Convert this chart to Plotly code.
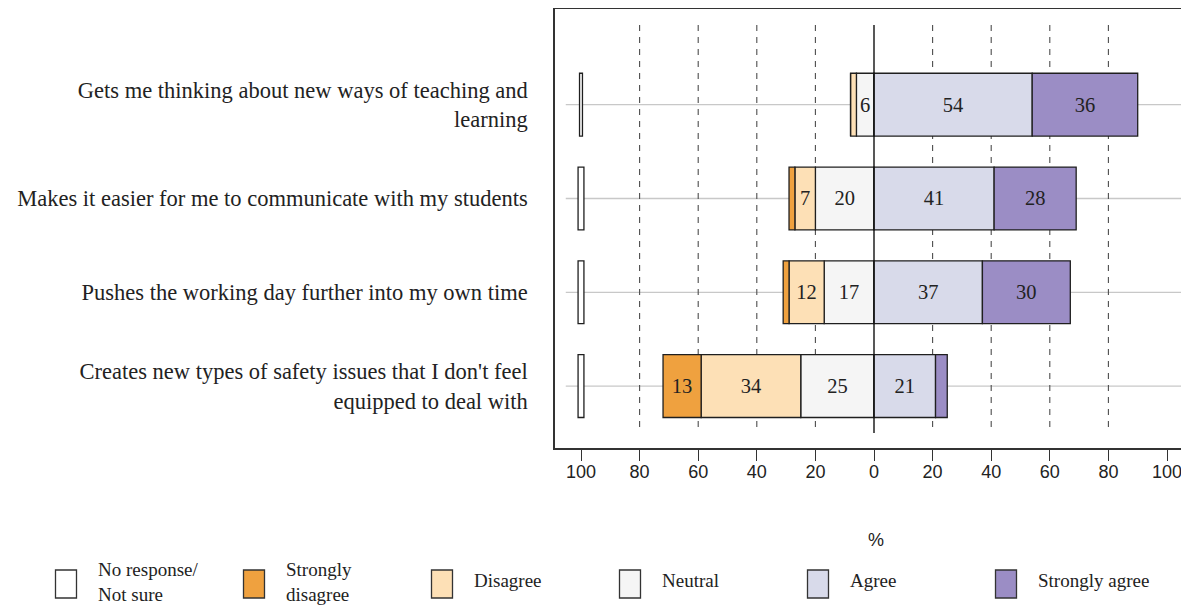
import numpy as np
import plotly.graph_objects as go

# ---------------- data ----------------
statements = [
    "Gets me thinking about new ways of teaching and<br>learning",
    "Makes it easier for me to communicate with my students",
    "Pushes the working day further into my own time",
    "Creates new types of safety issues that I don't feel<br>equipped to deal with",
]
no_response = [1, 2, 2, 2]
strongly_disagree = [0, 2, 2, 13]
disagree = [2, 7, 12, 34]
neutral = [6, 20, 17, 25]
agree = [54, 41, 37, 21]
strongly_agree = [36, 28, 30, 4]

tick_vals = [-100, -80, -60, -40, -20, 0, 20, 40, 60, 80, 100]
tick_text = ["100", "80", "60", "40", "20", "0", "20", "40", "60", "80", "100"]

legend_labels = ["No response/<br>Not sure", "Strongly<br>disagree", "Disagree",
                 "Neutral", "Agree", "Strongly agree"]

colors = {
    "nr": "#ffffff",
    "sd": "#efa13f",
    "d": "#fde0b6",
    "n": "#f5f5f5",
    "a": "#d8daea",
    "sa": "#9b8dc5",
}

# ---------------- geometry ----------------
W, H = 1189, 606
OFF = 8                      # page body margin offset
PX_PER_UNIT = 2.93
ML = 555 - OFF
MT = 9 - OFF
MB = H - (448 - OFF)
MR = 0
ypos = np.arange(len(statements))
BW = 0.67
EDGE = "#1f1f1f"
TXT = "#222222"
SERIF = "Liberation Serif, Times New Roman, serif"
SANS = "Liberation Sans, Arial, sans-serif"

nr = np.array(no_response, float)
sd = np.array(strongly_disagree, float)
d = np.array(disagree, float)
n = np.array(neutral, float)
a = np.array(agree, float)
sa = np.array(strongly_agree, float)

def lab(vals):
    return [str(int(v)) if v >= 5 else "" for v in vals]

fig = go.Figure()

def add_seg(values, base, color, name):
    fig.add_trace(go.Bar(
        y=ypos, x=values, base=base, orientation="h", width=BW,
        marker=dict(color=color, line=dict(color=EDGE, width=1.3)),
        text=lab(values), textposition="inside", insidetextanchor="middle",
        textangle=0, constraintext="none",
        textfont=dict(family=SERIF, size=20.5, color=TXT),
        name=name, showlegend=False, hoverinfo="x+name",
    ))

# negative side: neutral closest to zero, then disagree, then strongly disagree
add_seg(n, -n, colors["n"], "Neutral")
add_seg(d, -n - d, colors["d"], "Disagree")
add_seg(sd, -n - d - sd, colors["sd"], "Strongly disagree")
add_seg(a, np.zeros_like(a), colors["a"], "Agree")
add_seg(sa, a, colors["sa"], "Strongly agree")
# no response drawn around -100
fig.add_trace(go.Bar(
    y=ypos, x=nr, base=-100 - nr / 2, orientation="h", width=BW,
    marker=dict(color=colors["nr"], line=dict(color=EDGE, width=1.3)),
    name="No response/Not sure", showlegend=False,
))

XMIN = -100 - (581 - 555) / PX_PER_UNIT
XMAX = XMIN + (W - ML - MR) / PX_PER_UNIT
YTOP, YBOT = -1.02, 3.66

shapes = []
# horizontal light-grey guide lines
for yv in ypos:
    shapes.append(dict(type="line", xref="x", yref="y", x0=-105.2, x1=105.5,
                       y0=yv, y1=yv, line=dict(color="#c8c8c8", width=1.3),
                       layer="below"))
# dashed vertical grid lines
for xv in [-80, -60, -40, -20, 20, 40, 60, 80]:
    shapes.append(dict(type="line", xref="x", yref="y", x0=xv, x1=xv,
                       y0=-0.85, y1=3.50,
                       line=dict(color="#4d4d4d", width=1.1, dash="6px,6px"),
                       layer="below"))
# zero line
shapes.append(dict(type="line", xref="x", yref="y", x0=0, x1=0,
                   y0=-0.85, y1=3.50, line=dict(color="#111111", width=1.4),
                   layer="above"))

# ---------------- manual legend ----------------
PW = W - ML - MR
PH = H - MT - MB

def px2x(px):
    return (px - OFF - ML) / PW

def py2y(py):
    return (H - MB - (py - OFF)) / PH

legend_colors = [colors["nr"], colors["sd"], colors["d"], colors["n"], colors["a"], colors["sa"]]
annotations = []
for i, (lbl, col) in enumerate(zip(legend_labels, legend_colors)):
    cx = 66 + 188 * i
    cy = 584
    shapes.append(dict(type="rect", xref="paper", yref="paper",
                       x0=px2x(cx - 10.5), x1=px2x(cx + 10.5),
                       y0=py2y(cy + 14), y1=py2y(cy - 14),
                       fillcolor=col, line=dict(color="#333333", width=1.3)))
    ty = 582 if "<br>" in lbl else 580
    annotations.append(dict(xref="paper", yref="paper", x=px2x(cx + 30), y=py2y(ty),
                            text=lbl, showarrow=False, xanchor="left", yanchor="middle",
                            align="left",
                            font=dict(family=SERIF, size=19, color=TXT)))

fig.update_layout(
    width=W, height=H,
    margin=dict(l=ML, r=MR, t=MT, b=MB),
    paper_bgcolor="white", plot_bgcolor="white",
    barmode="overlay",
    shapes=shapes, annotations=annotations,
    xaxis=dict(range=[XMIN, XMAX], tickvals=tick_vals, ticktext=tick_text,
               showgrid=False, zeroline=False,
               showline=True, mirror=True, linecolor="#333333", linewidth=1.5,
               ticks="outside", ticklen=11, tickwidth=1.3, tickcolor="#333333",
               ticklabelstandoff=-4,
               tickfont=dict(family=SANS, size=18, color=TXT),
               title=dict(text="%", standoff=52, font=dict(family=SANS, size=18, color=TXT))),
    yaxis=dict(range=[YBOT, YTOP], tickvals=list(ypos), ticktext=statements,
               showgrid=False, zeroline=False,
               showline=True, linecolor="#333333", linewidth=1.5,
               ticks="", ticklabelstandoff=21,
               tickfont=dict(family=SERIF, size=22.5, color=TXT)),
)

fig.write_html("out.html")
